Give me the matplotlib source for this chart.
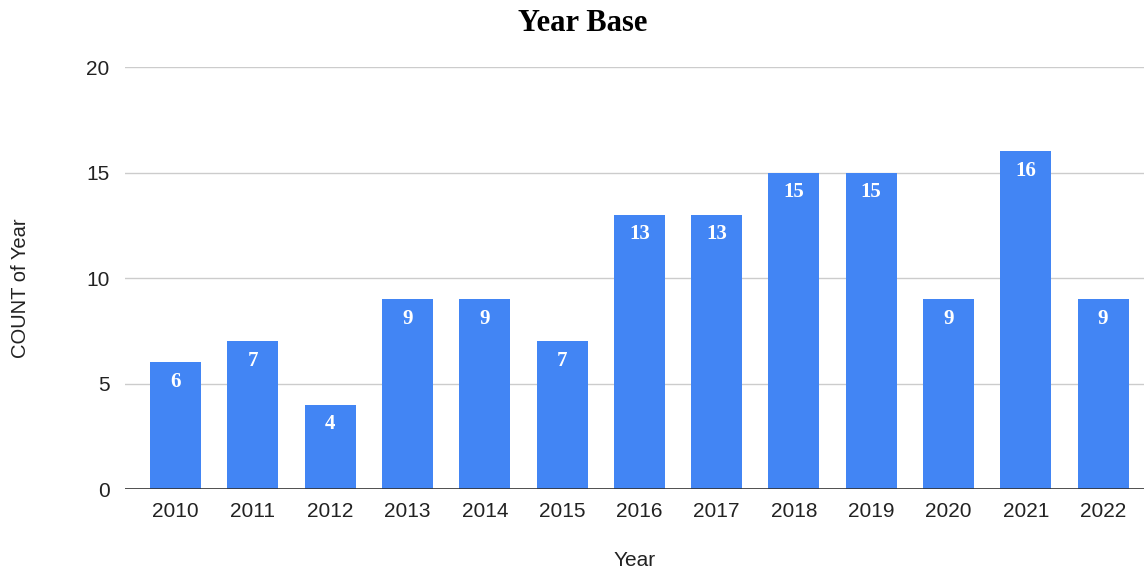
import matplotlib.pyplot as plt

years = ['2010', '2011', '2012', '2013', '2014', '2015', '2016',
         '2017', '2018', '2019', '2020', '2021', '2022']
counts = [6, 7, 4, 9, 9, 7, 13, 13, 15, 15, 9, 16, 9]

bar_color = '#4285F4'

fig = plt.figure(figsize=(11.44, 5.68), dpi=100)
ax = fig.add_axes([0.109, 0.139, 0.891, 0.743])

x = range(len(years))
bars = ax.bar(x, counts, width=0.66, color=bar_color, zorder=3)

# value labels inside bar tops
for xi, v in zip(x, counts):
    ax.annotate(str(v), (xi, v), xytext=(0, -14), textcoords='offset points',
                ha='center', va='center', color='white', fontsize=15,
                fontweight='bold', family='Liberation Serif', zorder=4)

ax.set_xlim(-0.66, 12.53)
ax.set_ylim(0, 20)
ax.set_yticks([0, 5, 10, 15, 20])
ax.set_xticks(list(x))
ax.set_xticklabels(years)
ax.tick_params(axis='both', length=0, labelsize=15, colors='#222222')
ax.tick_params(axis='y', pad=11)
ax.tick_params(axis='x', pad=9)
for lab in ax.get_xticklabels() + ax.get_yticklabels():
    lab.set_family('Liberation Sans')

ax.grid(axis='y', color='#cccccc', linewidth=1, zorder=0)
ax.axhline(0, color='#333333', linewidth=1.2, zorder=5)
for s in ax.spines.values():
    s.set_visible(False)

ax.set_xlabel('Year', fontsize=15, family='Liberation Sans', color='#222222', labelpad=22)
fig.text(0.018, 0.493, 'COUNT of Year', rotation=90, ha='center', va='center',
         fontsize=14.5, family='Liberation Sans', color='#222222')
fig.text(0.509, 0.958, 'Year Base', ha='center', va='center', fontsize=22,
         fontweight='bold', family='Liberation Serif')

fig.savefig('out.png', dpi=100)
